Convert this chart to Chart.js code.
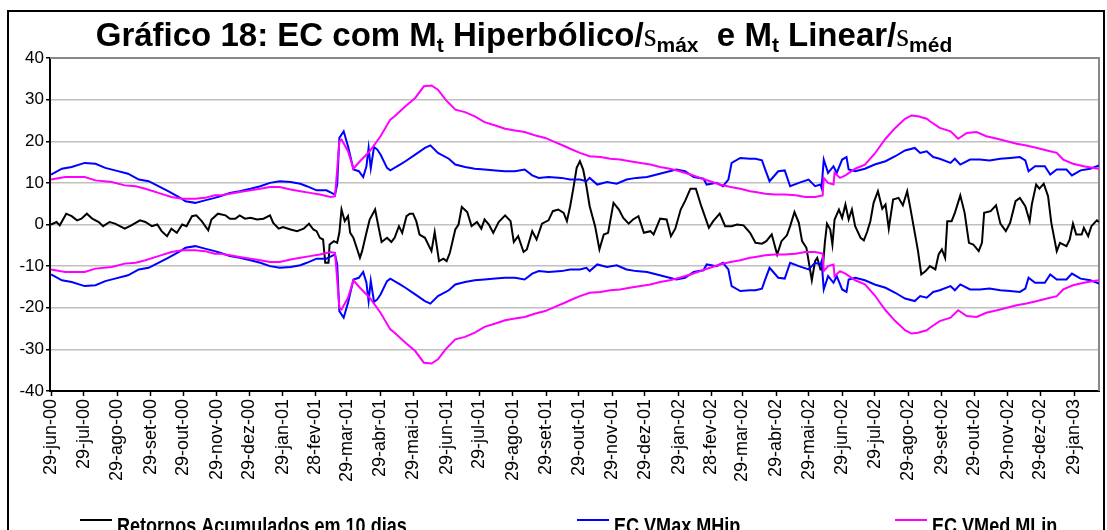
<!DOCTYPE html>
<html>
<head>
<meta charset="utf-8">
<script src="https://cdn.jsdelivr.net/npm/chart.js@4.4.1/dist/chart.umd.min.js"></script>
<style>
  html, body { margin: 0; padding: 0; background: #fff; overflow: hidden; }
  #wrap { width: 1107px; height: 530px; }
</style>
</head>
<body>
<div id="wrap"><canvas id="grafico18" width="1107" height="530"></canvas></div>
<script>
// dias contados a partir de 29-jun-00
var tickLabels = ['29-jun-00','29-jul-00','29-ago-00','29-set-00','29-out-00','29-nov-00','29-dez-00','29-jan-01',
  '28-fev-01','29-mar-01','29-abr-01','29-mai-01','29-jun-01','29-jul-01','29-ago-01','29-set-01','29-out-01',
  '29-nov-01','29-dez-01','29-jan-02','28-fev-02','29-mar-02','29-abr-02','29-mai-02','29-jun-02','29-jul-02',
  '29-ago-02','29-set-02','29-out-02','29-nov-02','29-dez-02','29-jan-03'];

var retDays = [0,5,8,14,19,24,28,33,38,44,48,54,59,68,74,82,87,93,98,102,107,111,116,121,125,130,134,139,145,148,154,
  161,165,170,174,179,184,190,196,202,205,210,214,221,227,233,238,242,245,248,251,253,256,257,261,264,266,268,271,274,
  276,279,282,285,287,291,294,299,302,305,310,314,317,321,324,328,331,334,337,340,345,351,354,358,362,365,368,373,376,
  379,384,388,393,397,400,404,408,413,419,424,427,431,436,439,444,448,453,459,463,468,473,476,479,482,485,488,491,494,
  497,502,506,510,514,519,524,528,533,537,542,547,553,556,562,568,572,576,581,585,590,595,600,607,611,617,622,628,633,
  639,645,650,656,660,665,670,674,679,682,686,690,693,697,702,705,707,710,712,714,716,719,721,723,727,730,733,736,739,
  742,747,750,753,756,759,763,767,770,773,777,782,786,790,793,797,800,803,807,811,816,819,822,825,827,831,834,839,843,
  847,851,856,859,861,867,872,876,881,885,890,894,899,903,905,909,912,916,920,923,928,931,937,940,943,946,951,953,957,
  960,965,967];
var retValues = [0,0.6,-0.2,2.6,2.0,1.0,1.4,2.6,1.4,0.6,-0.4,0.6,0.2,-1.0,-0.2,1.0,0.6,-0.4,0,-1.6,-2.8,-1.0,-2.0,0,-0.4,2.0,2.2,0.8,-1.4,1.2,2.6,
  2.2,1.4,1.4,2.2,1.4,1.6,1.2,1.4,2.2,0.4,-1.0,-0.6,-1.2,-1.6,-1.0,0.2,-1.2,-1.6,-3.2,-3.6,-9.2,-9.2,-4.8,-4.0,-4.4,-2.0,3.6,0.8,2.0,
  -2.0,-3.2,-5.6,-8.0,-6.4,-2.0,1.2,3.6,-0.4,-4.2,-3.2,-4.2,-3.2,-0.4,-2.0,2.0,2.6,2.6,0.8,-2.4,-3.2,-6.4,-1.8,-8.8,-8.2,-8.8,-6.8,-1.2,0,
  4.2,3.0,-0.4,0.6,-1.0,1.2,0,-2.0,0.6,2.2,0.8,-4.2,-2.8,-6.6,-6.0,-1.6,-3.6,0.2,1.0,3.2,3.6,2.8,0.8,4.4,8.8,13.6,15.2,13.2,9.2,
  4.4,-0.4,-6.0,-2.4,-2.0,5.2,3.6,1.6,0.2,1.2,2.0,-2.0,-1.6,-2.4,1.4,1.2,-2.8,-1.0,3.6,5.6,8.6,8.6,4.4,-0.8,0.8,2.6,-0.4,-0.4,0,
  -0.2,-2.0,-4.4,-4.6,-4.0,-2.4,-7.2,-4.0,-2.6,-0.4,3.0,0.4,-4.0,-5.6,-13.4,-8.8,-8.0,-10.8,-10.8,-4.4,0.2,-1.2,-4.8,1.2,3.6,1.6,4.8,1.2,3.6,
  -0.4,-3.2,-3.8,-1.8,0.8,5.2,8.0,3.8,4.8,-1.0,6.0,6.4,4.6,8.0,3.8,-2.0,-6.4,-12.0,-11.2,-10.0,-10.8,-7.2,-6.0,-8.0,0.8,0.8,2.8,7.0,2.8,
  -4.4,-4.8,-6.4,-4.4,2.8,3.2,4.6,0.2,-1.6,0.4,5.6,6.4,4.4,0.8,4.8,9.6,8.6,9.8,6.8,0.4,-6.4,-4.4,-5.2,-3.6,0.2,-2.4,-2.4,-0.8,-2.8,
  -0.4,1.0,0.6];

var hipDays = [0,10,19,31,41,50,59,71,81,90,99,108,118,124,133,142,151,156,165,174,184,193,202,211,221,230,236,245,254,262,264,
  266,270,274,279,284,288,291,293,295,298,301,304,310,313,322,327,336,345,350,357,367,373,382,391,400,410,419,428,437,444,
  450,459,471,479,488,494,497,504,513,522,531,540,550,559,568,577,585,593,602,605,614,620,625,628,636,645,650,656,659,663,
  671,677,682,690,699,705,710,711,713,717,722,725,730,734,736,742,751,760,770,779,788,797,802,808,814,820,830,834,839,848,
  857,866,876,885,894,899,902,908,917,922,928,937,942,950,959,967];
var hipValues = [12.0,13.4,13.8,14.8,14.6,13.6,13.0,12.2,10.8,10.4,9.2,8.0,6.6,5.6,5.2,5.8,6.4,6.8,7.6,8.0,8.6,9.2,10.0,10.4,10.2,9.8,9.2,8.2,8.2,7.2,9.6,
  20.8,22.4,18.8,13.2,12.8,11.4,14.0,18.4,13.5,18.6,18.0,16.8,13.6,13.0,14.4,15.2,16.8,18.4,19.0,17.2,15.8,14.4,13.8,13.4,13.2,13.0,12.8,12.8,13.2,11.8,
  11.2,11.4,11.2,10.8,10.8,10.4,11.2,9.6,10.2,9.8,10.8,11.2,11.4,12.0,12.6,13.2,12.8,11.4,11.0,9.6,10.0,9.2,10.8,14.8,16.0,15.8,15.8,15.4,13.2,10.4,
  12.8,13.0,9.2,10.0,10.8,9.2,9.6,8.8,15.6,12.4,14.0,12.4,15.6,16.2,13.2,12.8,13.4,14.4,15.2,16.4,17.8,18.4,17.2,17.6,16.2,15.8,14.8,15.8,14.4,15.6,
  15.6,15.4,15.8,16.0,16.2,15.4,12.8,14.0,14.0,12.0,13.2,13.2,11.8,13.0,13.4,14.2];

var linDays = [0,13,31,41,56,68,78,87,99,111,121,133,142,151,156,165,174,184,193,202,211,221,230,239,248,258,262,264,266,268,
  274,279,285,294,304,313,317,327,336,344,351,357,364,373,382,391,400,410,419,428,437,447,456,465,474,479,488,497,507,516,
  525,534,544,553,562,571,580,590,599,608,617,627,636,645,650,659,668,677,687,696,705,712,713,717,722,723,728,733,742,751,
  760,770,779,788,794,800,808,811,820,830,837,845,854,863,873,882,891,900,910,919,928,934,943,953,962,967];
var linValues = [10.8,11.4,11.4,10.6,10.2,9.4,9.2,8.6,7.6,6.6,6.2,6.2,6.4,7.0,7.0,7.4,7.8,8.2,8.6,9.0,9.0,8.4,8.0,7.6,7.2,6.6,6.8,13.2,20.0,20.4,
  17.6,13.4,15.2,17.6,21.2,25.2,26.0,28.4,30.4,33.2,33.4,32.4,30.0,27.6,27.0,26.0,24.6,23.8,23.0,22.6,22.2,21.4,20.8,19.8,18.8,18.2,17.2,16.4,16.2,15.8,
  15.6,15.2,14.8,14.4,13.8,13.4,12.8,12.0,11.2,10.4,9.6,9.0,8.6,8.0,7.8,7.4,7.2,7.2,7.0,6.6,6.6,7.0,11.2,10.0,9.6,12.4,11.2,11.8,13.4,14.4,
  17.0,20.6,23.2,25.4,26.2,26.0,25.4,24.8,23.2,22.4,20.6,22.0,22.2,21.2,20.6,20.0,19.4,19.0,18.4,17.8,17.2,15.6,14.6,14.0,13.6,13.4];

var monthIdx = { jan: 0, fev: 1, mar: 2, abr: 3, mai: 4, jun: 5, jul: 6, ago: 7, set: 8, out: 9, nov: 10, dez: 11 };
var day0 = Date.UTC(2000, 5, 29);
var tickDays = tickLabels.map(function (lbl) {
    var p = lbl.split('-');
    var t = Date.UTC(2000 + parseInt(p[2], 10), monthIdx[p[1]], parseInt(p[0], 10));
    return Math.round((t - day0) / 86400000);
});

function toPoints(days, vals, sign) {
    return days.map(function (d, i) { return { x: d, y: sign * vals[i] }; });
}

var FONT = '"Liberation Sans", Arial, sans-serif';

// moldura externa e borda cinza da área de plotagem
var framePlugin = {
    id: 'frame',
    beforeDraw: function (chart) {
        var ctx = chart.ctx;
        ctx.save();
        ctx.fillStyle = '#fff';
        ctx.fillRect(0, 0, chart.width, chart.height);
        ctx.strokeStyle = '#000';
        ctx.lineWidth = 2;
        ctx.strokeRect(8, 11, 1096, 540);
        ctx.restore();
    },
    beforeDatasetsDraw: function (chart) {
        var a = chart.chartArea, ctx = chart.ctx;
        ctx.save();
        ctx.strokeStyle = '#888';
        ctx.lineWidth = 2;
        ctx.beginPath();
        ctx.moveTo(a.left, a.top);
        ctx.lineTo(a.right, a.top);
        ctx.lineTo(a.right, a.bottom);
        ctx.stroke();
        ctx.restore();
    }
};

var titleParts = [
    ['Gráfico 18: EC com M', 'b'], ['t', 'sub'], [' Hiperbólico/', 'b'], ['s', 'sym'], ['máx', 'sub'],
    ['  e M', 'b'], ['t', 'sub'], [' Linear/', 'b'], ['s', 'sym'], ['méd', 'sub']
];
var titleFonts = {
    b: ['bold 33px ' + FONT, 0],
    sub: ['bold 21px ' + FONT, 6],
    sym: ['33px "Liberation Serif", "Times New Roman", serif', 0]
};

var titlePlugin = {
    id: 'titulo',
    afterDraw: function (chart) {
        var ctx = chart.ctx;
        ctx.save();
        ctx.fillStyle = '#000';
        ctx.textBaseline = 'alphabetic';
        var total = 0;
        titleParts.forEach(function (p) {
            ctx.font = titleFonts[p[1]][0];
            total += ctx.measureText(p[0]).width;
        });
        var x = 524 - total / 2, base = 46;
        titleParts.forEach(function (p) {
            ctx.font = titleFonts[p[1]][0];
            ctx.fillText(p[0], x, base + titleFonts[p[1]][1]);
            x += ctx.measureText(p[0]).width;
        });
        ctx.restore();
    }
};

// legenda desenhada em letra condensada (Arial Narrow no original)
var legendX = [80, 577, 895];
var legendPlugin = {
    id: 'legenda',
    afterDraw: function (chart) {
        var ctx = chart.ctx;
        var items = chart.data.datasets.filter(function (d) { return d.inLegend; });
        items.forEach(function (d, i) {
            var x = legendX[i];
            ctx.save();
            ctx.strokeStyle = d.borderColor;
            ctx.lineWidth = 2;
            ctx.beginPath();
            ctx.moveTo(x, 520);
            ctx.lineTo(x + 32, 520);
            ctx.stroke();
            ctx.translate(x + 37, 533);
            ctx.scale(0.82, 1);
            ctx.fillStyle = '#000';
            ctx.font = 'bold 22px ' + FONT;
            ctx.textBaseline = 'alphabetic';
            ctx.fillText(d.label, 0, 0);
            ctx.restore();
        });
    }
};

var ctx = document.getElementById('grafico18').getContext('2d');
var chart = new Chart(ctx, {
    type: 'line',
    data: {
        datasets: [
            { label: 'Retornos Acumulados em 10 dias', data: toPoints(retDays, retValues, 1), borderColor: '#000000', order: 3, inLegend: true },
            { label: 'EC VMax MHip', data: toPoints(hipDays, hipValues, 1), borderColor: '#0000ff', order: 2, inLegend: true },
            { label: 'EC VMax MHip', data: toPoints(hipDays, hipValues, -1), borderColor: '#0000ff', order: 2 },
            { label: 'EC VMed MLin', data: toPoints(linDays, linValues, 1), borderColor: '#ff00ff', order: 1, inLegend: true },
            { label: 'EC VMed MLin', data: toPoints(linDays, linValues, -1), borderColor: '#ff00ff', order: 1 }
        ]
    },
    options: {
        responsive: false,
        animation: false,
        devicePixelRatio: 1,
        layout: { padding: { top: 58, right: 8, left: 0, bottom: 0 } },
        elements: {
            line: { borderWidth: 2, tension: 0, fill: false },
            point: { radius: 0 }
        },
        plugins: {
            legend: { display: false },
            title: { display: false },
            tooltip: { enabled: false }
        },
        scales: {
            x: {
                type: 'linear',
                min: -1,
                max: 967,
                afterBuildTicks: function (scale) {
                    scale.ticks = tickDays.map(function (d) { return { value: d }; });
                },
                afterFit: function (scale) { scale.height = 139; },
                grid: { drawOnChartArea: false, drawTicks: true, tickLength: 5, tickColor: '#000', tickWidth: 1.5 },
                border: { color: '#000', width: 2 },
                ticks: {
                    autoSkip: false,
                    minRotation: 90,
                    maxRotation: 90,
                    padding: 3,
                    color: '#000',
                    font: { family: FONT, size: 18 },
                    callback: function (value, index) { return tickLabels[index]; }
                }
            },
            y: {
                min: -40,
                max: 40,
                afterFit: function (scale) { scale.width = 50; },
                grid: { color: '#c0c0c0', lineWidth: 1.5, tickColor: '#000', tickLength: 4, tickWidth: 1.5 },
                border: { color: '#000', width: 2 },
                ticks: {
                    stepSize: 10,
                    padding: 2,
                    color: '#000',
                    font: { family: FONT, size: 17 }
                }
            }
        }
    },
    plugins: [framePlugin, titlePlugin, legendPlugin]
});
</script>
</body>
</html>
